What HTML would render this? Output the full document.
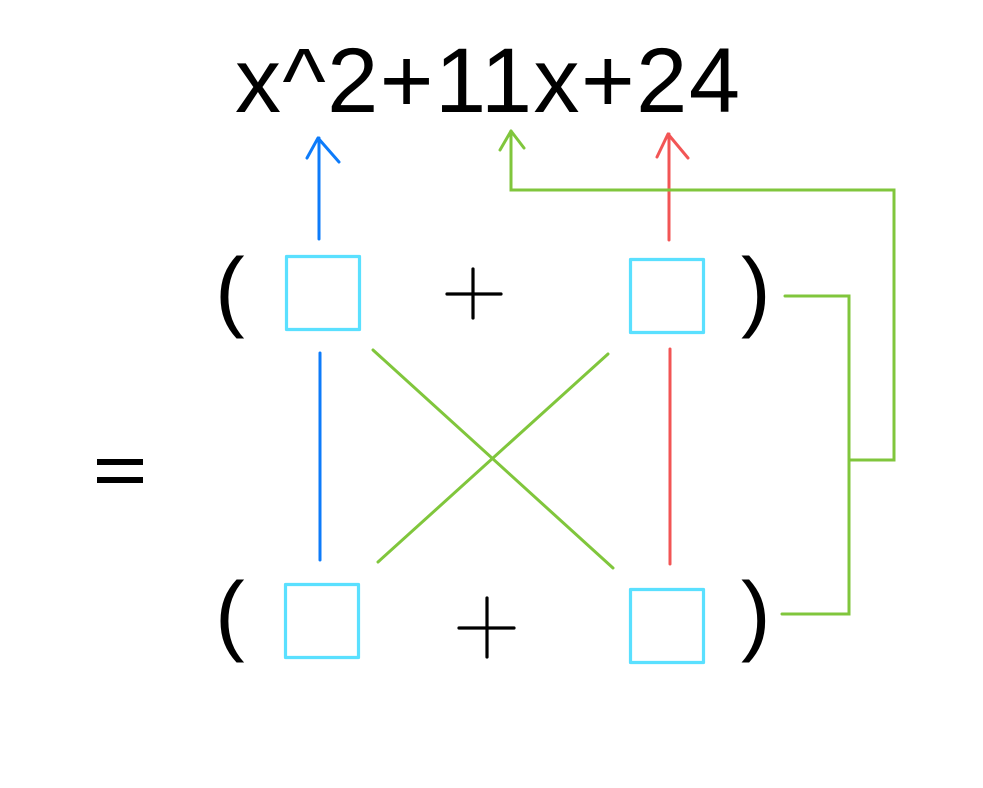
<!DOCTYPE html>
<html>
<head>
<meta charset="utf-8">
<style>
  html, body { margin:0; padding:0; background:#ffffff; }
  body { width:983px; height:788px; overflow:hidden; }
  svg { display:block; }
  text { font-family:"Liberation Sans", Arial, Helvetica, sans-serif; fill:#000; }
</style>
</head>
<body>
<svg width="983" height="788" viewBox="0 0 983 788" xmlns="http://www.w3.org/2000/svg">
  <rect width="983" height="788" fill="#ffffff"/>

  <!-- Title expression -->
  <text x="235" y="112" font-size="92" textLength="505" lengthAdjust="spacing">x^2+11x+24</text>

  <!-- Equals sign -->
  <rect x="97" y="459" width="46" height="6" fill="#000"/>
  <rect x="97" y="477" width="46" height="6" fill="#000"/>

  <!-- Parentheses -->
  <text x="215" y="320" font-size="89">(</text>
  <text x="741" y="320" font-size="89">)</text>
  <text x="215" y="644" font-size="89">(</text>
  <text x="741" y="644" font-size="89">)</text>

  <!-- Plus signs -->
  <g stroke="#000" stroke-width="3.2" stroke-linecap="round" fill="none">
    <line x1="447" y1="294" x2="501" y2="294"/>
    <line x1="473" y1="269" x2="473" y2="318"/>
    <line x1="459" y1="628" x2="514" y2="628"/>
    <line x1="487" y1="598" x2="487" y2="657"/>
  </g>

  <!-- Boxes -->
  <g stroke="#5ae0ff" stroke-width="3.2" fill="none" stroke-linejoin="round">
    <rect x="286.5" y="256.5" width="73" height="73"/>
    <rect x="630.5" y="259.5" width="73" height="73"/>
    <rect x="285.5" y="584.5" width="73" height="73"/>
    <rect x="630.5" y="589.5" width="73" height="73"/>
  </g>

  <!-- Blue connector + arrow -->
  <g stroke="#0d7bfa" stroke-width="3" stroke-linecap="round" stroke-linejoin="round" fill="none">
    <line x1="319" y1="239" x2="319" y2="138"/>
    <polyline points="307,158 318,138 339,162"/>
    <line x1="320" y1="353" x2="320" y2="560"/>
  </g>

  <!-- Red connector + arrow -->
  <g stroke="#f25555" stroke-width="3" stroke-linecap="round" stroke-linejoin="round" fill="none">
    <line x1="669" y1="240" x2="669" y2="134"/>
    <polyline points="657,157 668,134 688,158"/>
    <line x1="670" y1="349" x2="670" y2="564"/>
  </g>

  <!-- Green connectors -->
  <g stroke="#80c63c" stroke-width="3" stroke-linecap="round" stroke-linejoin="miter" fill="none">
    <line x1="373" y1="350" x2="613" y2="568"/>
    <line x1="608" y1="354" x2="378" y2="562"/>
    <polyline points="785,296 849,296 849,614 782,614"/>
    <polyline points="849,460 894,460 894,190 511,190 511,131"/>
    <polyline points="500,150 511,131 524,148" stroke-linejoin="round"/>
  </g>
</svg>
</body>
</html>
